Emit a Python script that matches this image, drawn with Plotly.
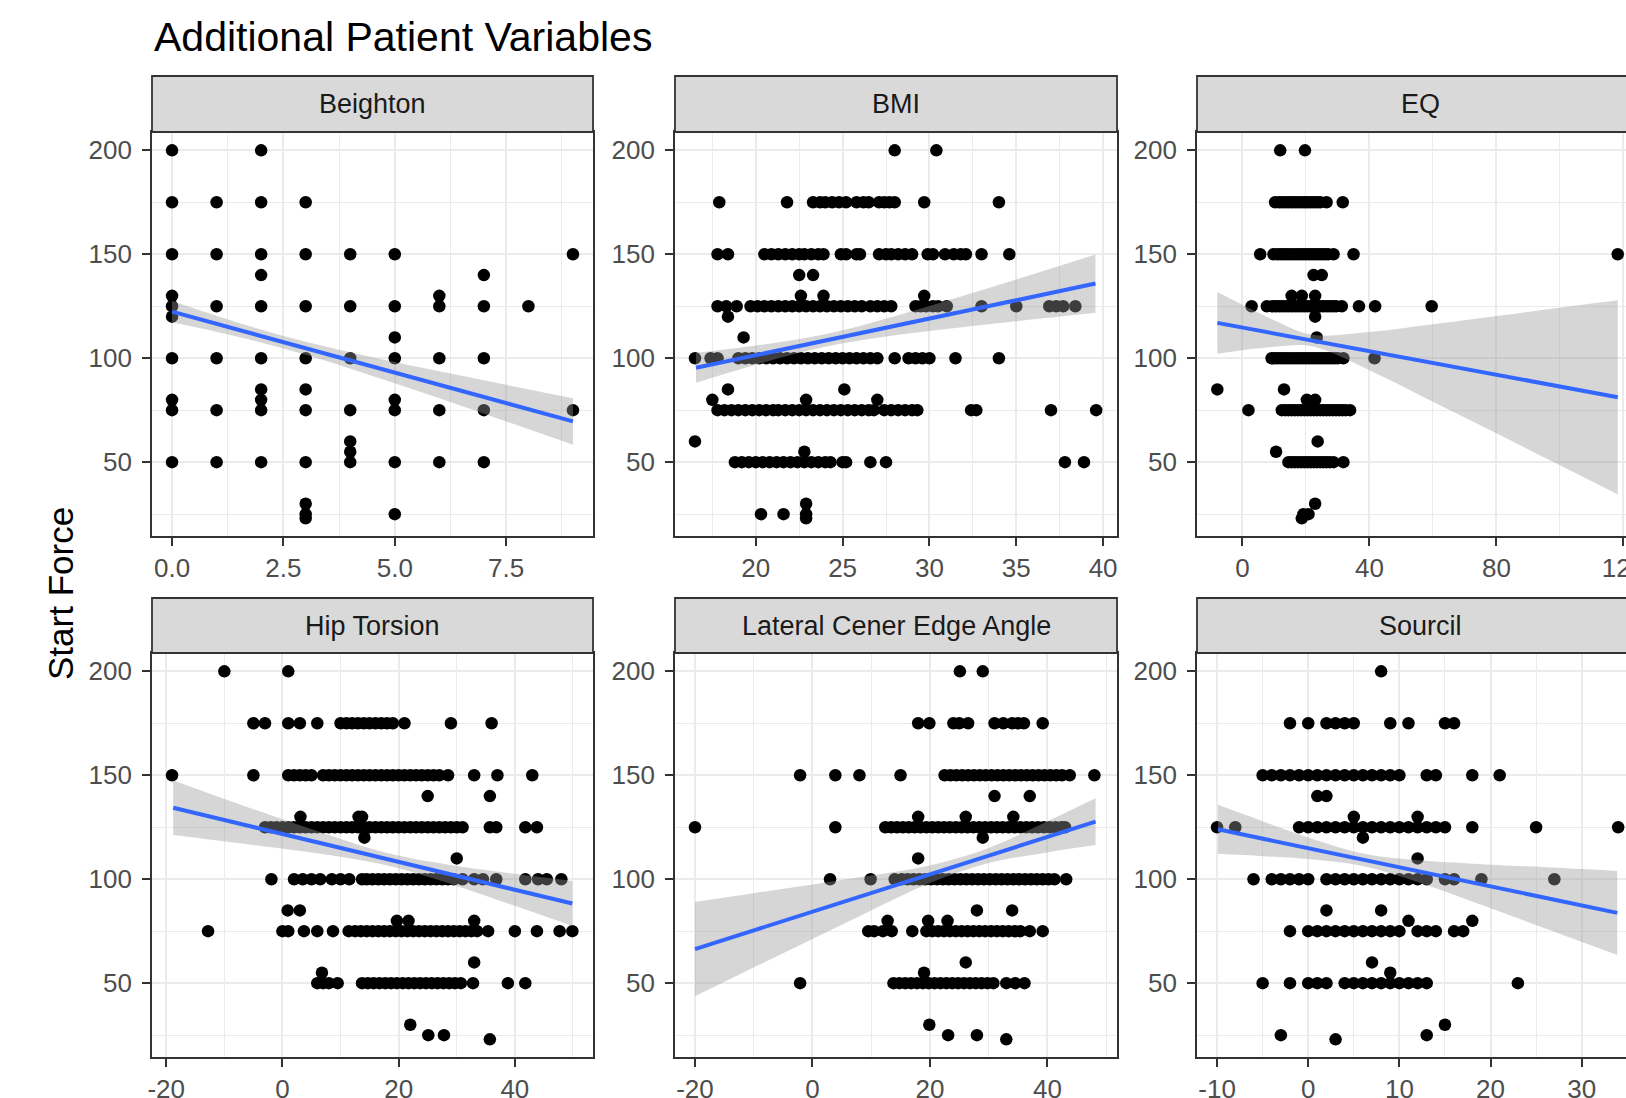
import plotly.graph_objects as go

TITLE = "Additional Patient Variables"
Y_TITLE = "Start Force"
FACETS = ["Beighton", "BMI", "EQ", "Hip Torsion", "Lateral Cener Edge Angle", "Sourcil"]

# ---- point data: (Start Force level, [x values at that level]) ----
BEIGHTON_ROWS = [
    (200, [0, 2]), (175, [0, 1, 2, 3]), (150, [0, 1, 2, 3, 4, 5, 9]), (140, [2, 7]),
    (130, [0, 6]), (125, [0, 1, 2, 3, 4, 5, 6, 7, 8]), (120, [0]), (110, [5]),
    (100, [0, 1, 2, 3, 4, 5, 6, 7]), (85, [2, 3]), (80, [0, 2, 5]),
    (75, [0, 1, 2, 3, 4, 5, 6, 7, 9]), (60, [4]), (55, [4]),
    (50, [0, 1, 2, 3, 4, 5, 6, 7]), (30, [3]), (25, [3, 5]), (23, [3]),
]
BMI_ROWS = [
    (200, [28.0, 30.4]),
    (175, [17.9, 21.8, 23.3, 23.7, 24.0, 24.4, 24.8, 25.2, 25.8, 26.2, 26.5, 27.1, 27.4, 27.7, 28.0, 29.7, 34.0]),
    (150, [17.8, 18.4, 20.5, 20.9, 21.3, 21.7, 22.1, 22.5, 22.8, 23.2, 23.6, 23.9, 24.9, 25.2, 25.8, 26.0,
           27.1, 27.5, 27.8, 28.2, 28.6, 29.0, 29.9, 30.2, 30.9, 31.4, 31.8, 32.1, 33.0, 34.6]),
    (140, [22.5, 23.3]),
    (130, [22.6, 23.9, 29.7]),
    (125, [17.8, 18.3, 18.9, 19.7, 20.1, 20.5, 20.9, 21.3, 21.7, 22.1, 22.5, 22.9, 23.3, 23.7, 24.1, 24.5,
           24.9, 25.3, 25.7, 26.1, 26.6, 27.0, 27.4, 27.8, 29.2, 29.5, 29.8, 30.2, 30.5, 31.0, 33.0, 35.0,
           36.9, 37.3, 37.7, 38.4]),
    (120, [18.4]), (110, [19.3]),
    (100, [16.5, 17.4, 17.8, 19.0, 19.4, 19.8, 20.2, 20.6, 21.0, 21.4, 21.8, 22.2, 22.6, 23.0, 23.4, 23.8,
           24.2, 24.6, 25.0, 25.4, 25.8, 26.2, 26.6, 27.0, 28.0, 28.8, 29.2, 29.6, 30.0, 31.5, 34.0]),
    (85, [18.4, 25.1]), (80, [17.5, 22.9, 27.0]),
    (75, [17.8, 18.2, 18.6, 19.0, 19.4, 19.8, 20.2, 20.6, 21.0, 21.3, 21.7, 22.1, 22.5, 22.9, 23.3, 23.7,
          24.1, 24.5, 24.9, 25.3, 25.7, 26.1, 26.5, 26.8, 27.4, 27.8, 28.2, 28.6, 29.0, 29.3, 32.4, 32.7,
          37.0, 39.6]),
    (60, [16.5]), (55, [22.8]),
    (50, [18.8, 19.2, 19.6, 20.0, 20.4, 20.8, 21.2, 21.6, 22.0, 22.4, 22.8, 23.2, 23.6, 24.0, 24.3, 25.0,
          25.2, 26.6, 27.5, 37.8, 38.9]),
    (30, [22.9]), (25, [20.3, 21.6, 22.9]), (23, [22.9]),
]
EQ_ROWS = [
    (200, [11.9, 19.7]),
    (175, [10.3, 11.5, 12.5, 13.5, 14.5, 15.5, 16.5, 17.5, 18.5, 19.5, 20.5, 21.5, 22.5, 23.5, 24.5, 26.5, 31.6]),
    (150, [5.6, 9.8, 11, 12, 13, 14, 15, 16, 17, 18, 19, 20, 21, 22, 23, 24, 25, 26, 27, 28.7, 35.0, 118.2]),
    (140, [22.4, 25.0]),
    (130, [15.5, 18.7, 22.9]),
    (125, [2.9, 7.7, 9.5, 10.5, 11.5, 12.5, 13.5, 14.5, 15.5, 16.5, 17.5, 18.5, 19.5, 20.5, 21.5, 22.5,
           23.5, 24.5, 25.5, 26.5, 27.5, 28.5, 29.5, 31.3, 36.7, 41.8, 59.6]),
    (120, [22.9]), (110, [23.4]),
    (100, [9.2, 10, 11, 12, 13, 14, 15, 16, 17, 18, 19, 20, 21, 22, 23, 24, 25, 26, 27, 28, 29, 30, 31.8, 41.6]),
    (85, [-7.9, 13.1]), (80, [20.3, 22.9]),
    (75, [1.9, 12.4, 13.5, 14.5, 15.5, 16.5, 17.5, 18.5, 19.5, 20.5, 21.5, 22.5, 23.5, 24.5, 25.5, 26.5,
          27.5, 28.5, 29.5, 30.5, 31.5, 32.5, 33.9]),
    (60, [23.7]), (55, [10.6]),
    (50, [14.5, 15.5, 16.5, 17.5, 18.5, 19.5, 20.5, 21.5, 22.5, 23.5, 24.5, 25.5, 26.5, 27.5, 28.7, 31.8]),
    (30, [22.9]), (25, [19.2, 20.8]), (23, [18.7]),
]
HIP_ROWS = [
    (200, [-10, 1]),
    (175, [-5, -3, 1, 3, 6, 10, 11, 12, 13, 14, 15, 16, 17, 18, 19, 21, 29, 36]),
    (150, [-19, -5, 1, 2, 3, 4, 5, 7, 8, 9, 10, 11, 12, 13, 14, 15, 16, 17, 18, 19, 20, 21, 22, 23, 24, 25,
           26, 27, 28.5, 33, 37, 43]),
    (140, [25, 35.7]),
    (130, [3.1, 13.1, 13.7]),
    (125, [-3, -2, -1, 0, 1, 2, 3, 4, 5, 6, 7, 8, 9, 10, 11, 12, 13, 14, 15, 16, 17, 18, 19, 20, 21, 22, 23,
           24, 25, 26, 27, 28, 29, 30, 31, 35.7, 36.8, 41.8, 43.8]),
    (120, [14.1]), (110, [30]),
    (100, [-1.9, 2, 3.5, 5, 6.5, 8.5, 10, 11.5, 13.7, 14.5, 15.5, 16.5, 17.5, 18.5, 19.5, 20.5, 21.5, 22.5,
           23.5, 24.5, 25.5, 26.5, 27.5, 28.5, 29.5, 31, 33, 34.5, 36.8, 41.8, 44, 45.5, 48]),
    (85, [0.9, 3]), (80, [19.7, 21.7, 33]),
    (75, [-12.8, 0, 1, 3.7, 6, 8.7, 11.4, 12.5, 13.5, 14.5, 15.5, 16.5, 17.5, 18.5, 19.5, 20.5, 21.5, 22.5,
          23.5, 24.5, 25.5, 26.5, 27.5, 28.5, 29.5, 30.5, 31.5, 32.5, 33.5, 35.4, 40, 43.8, 47.7, 49.9]),
    (60, [33]), (55, [6.8]),
    (50, [6, 7, 8, 9.5, 13.7, 14.7, 15.7, 16.7, 17.7, 18.7, 19.7, 20.7, 21.7, 22.7, 23.7, 24.7, 25.7, 26.7,
          27.7, 28.7, 29.7, 30.7, 32.8, 38.8, 41.8]),
    (30, [22]), (25, [25.1, 27.8]), (23, [35.7]),
]
LCEA_ROWS = [
    (200, [25.1, 29]),
    (175, [18, 19.9, 24, 25, 26.5, 31, 32.5, 34, 35, 36, 39.2]),
    (150, [-2.1, 3.9, 8, 15, 22.5, 23.5, 24.5, 25.5, 26.5, 27.5, 28.5, 29.5, 30.5, 31.5, 32.5, 33.5, 34.5,
           35.5, 36.5, 37.5, 38.5, 39.5, 40.5, 41.5, 42.5, 43.8, 48]),
    (140, [31, 37]),
    (130, [18, 26.1, 34.2]),
    (125, [-20, 3.9, 12.4, 13.4, 14.4, 15.4, 16.4, 17.4, 18.4, 19.4, 20.4, 21.4, 22.4, 23.4, 24.4, 25.4,
           26.4, 27.4, 28.4, 29.4, 30.4, 31.4, 32.4, 33.4, 34.4, 35.4, 36.4, 37.4, 38.4, 39.4, 40.4, 41.4,
           42.4, 43]),
    (120, [29]), (110, [18]),
    (100, [3, 9.9, 14, 15.2, 16.2, 17.2, 18.2, 19.2, 20.2, 21.2, 22.2, 23.2, 24.2, 25.2, 26.2, 27.2, 28.2,
           29.2, 30.2, 31.2, 32.2, 33.2, 34.2, 35.2, 36.2, 37.2, 38.2, 39.2, 40.2, 41.2, 43.2]),
    (85, [28, 34]), (80, [12.8, 19.7, 23]),
    (75, [9.5, 10.5, 12, 13.5, 17, 19.4, 20.4, 21.4, 22.4, 23.4, 24.4, 25.4, 26.4, 27.4, 28.4, 29.4, 30.4,
          31.4, 32.4, 33.4, 34.4, 35.4, 37, 39.2]),
    (60, [26.1]), (55, [19]),
    (50, [-2.1, 13.8, 14.8, 15.8, 16.8, 17.8, 18.8, 19.8, 20.8, 21.8, 22.8, 23.8, 24.8, 25.8, 26.8, 27.8,
          28.8, 29.8, 30.8, 33, 34.5, 36.1]),
    (30, [19.9]), (25, [23.1, 28]), (23, [33]),
]
SOURCIL_ROWS = [
    (200, [8]),
    (175, [-2, 0, 2, 3, 4, 5, 9, 11, 15, 16]),
    (150, [-5, -4, -3, -2, -1, 0, 1, 2, 3, 4, 5, 6, 7, 8, 9, 10, 13, 14, 18, 21]),
    (140, [1, 2]), (130, [5, 12]),
    (125, [-10, -8, -1, 0, 1, 2, 3, 4, 5, 6, 7, 8, 9, 10, 11, 12, 13, 14, 15, 18, 25, 34]),
    (120, [6]), (110, [12]),
    (100, [-6, -4, -3, -2, -1, 0, 2, 3, 4, 5, 6, 7, 8, 9, 10, 11, 12, 13, 15, 16, 19, 27]),
    (85, [2, 8]), (80, [11, 18]),
    (75, [-2, 0, 1, 2, 3, 4, 5, 6, 7, 8, 9, 10, 12, 13, 14, 16, 17]),
    (60, [7]), (55, [9]),
    (50, [-5, -2, 0, 1, 2, 4, 5, 6, 7, 8, 9, 10, 11, 12, 13, 23]),
    (30, [15]), (25, [-3, 13]), (23, [3]),
]

# ---- linear smooth (geom_smooth, method = "lm") ----
BEIGHTON_SM_X = [0, 1.5, 3, 4.5, 6, 7.5, 9]
BEIGHTON_SM_FIT = [122.4, 113.6, 104.8, 96.0, 87.2, 78.4, 69.6]
BEIGHTON_SM_LO = [117.3, 110.2, 101.7, 91.5, 80.7, 69.6, 58.4]
BEIGHTON_SM_HI = [127.5, 117.0, 107.9, 100.5, 93.7, 87.2, 80.8]

BMI_SM_X = [16.56, 20, 24, 28, 32, 36, 39.56]
BMI_SM_FIT = [95.4, 101.5, 108.5, 115.6, 122.6, 129.6, 135.9]
BMI_SM_LO = [88.2, 96.9, 105.5, 111.0, 115.0, 118.7, 121.9]
BMI_SM_HI = [102.6, 106.1, 111.5, 120.2, 130.2, 140.5, 149.9]

EQ_SM_X = [-7.9, 10, 22, 40, 60, 80, 100, 118.2]
EQ_SM_FIT = [117.0, 111.9, 108.5, 103.4, 97.7, 92.1, 86.4, 81.2]
EQ_SM_LO = [102.2, 105.5, 105.7, 94.2, 79.1, 63.9, 48.5, 34.5]
EQ_SM_HI = [131.8, 118.3, 111.3, 112.6, 116.3, 120.3, 124.3, 127.9]

HIP_SM_X = [-18.8, -5, 10, 19, 30, 40, 49.9]
HIP_SM_FIT = [134.4, 125.1, 115.1, 109.0, 101.6, 94.9, 88.3]
HIP_SM_LO = [121.3, 116.5, 110.8, 106.0, 96.8, 87.2, 77.5]
HIP_SM_HI = [147.5, 133.7, 119.4, 112.0, 106.4, 102.6, 99.1]

LCEA_SM_X = [-20, -10, 0, 10, 20, 30, 40, 48.2]
LCEA_SM_FIT = [66.4, 75.4, 84.4, 93.4, 102.4, 111.4, 120.4, 127.7]
LCEA_SM_LO = [43.7, 57.5, 71.3, 85.0, 98.2, 107.8, 112.9, 116.4]
LCEA_SM_HI = [89.1, 93.3, 97.5, 101.8, 106.6, 115.0, 127.9, 139.0]

SOURCIL_SM_X = [-9.9, -5, 0, 6, 12, 18, 24, 33.9]
SOURCIL_SM_FIT = [124.0, 119.5, 114.9, 109.4, 103.9, 98.4, 92.9, 83.8]
SOURCIL_SM_LO = [112.2, 111.1, 109.7, 106.4, 98.7, 89.3, 79.6, 63.6]
SOURCIL_SM_HI = [135.8, 127.9, 120.1, 112.4, 109.1, 107.5, 106.2, 104.0]

# ---- axes ----
Y_TICKS = [50, 100, 150, 200]
Y_MINOR = [25, 75, 125, 175]
Y_RANGE = [14.5, 208.8]

BEIGHTON_TICKS, BEIGHTON_LABELS = [0, 2.5, 5, 7.5], ["0.0", "2.5", "5.0", "7.5"]
BMI_TICKS, BMI_LABELS = [20, 25, 30, 35, 40], ["20", "25", "30", "35", "40"]
EQ_TICKS, EQ_LABELS = [0, 40, 80, 120], ["0", "40", "80", "120"]
HIP_TICKS, HIP_LABELS = [-20, 0, 20, 40], ["-20", "0", "20", "40"]
LCEA_TICKS, LCEA_LABELS = [-20, 0, 20, 40], ["-20", "0", "20", "40"]
SOURCIL_TICKS, SOURCIL_LABELS = [-10, 0, 10, 20, 30], ["-10", "0", "10", "20", "30"]

BEIGHTON_MINOR = [1.25, 3.75, 6.25, 8.75]
BMI_MINOR = [17.5, 22.5, 27.5, 32.5, 37.5]
EQ_MINOR = [20, 60, 100]
HIP_MINOR = [-10, 10, 30, 50]
LCEA_MINOR = [-10, 10, 30, 50]
SOURCIL_MINOR = [-5, 5, 15, 25]

X_RANGES = [[-0.45, 9.45], [15.35, 40.8], [-14.3, 120.8],
            [-22.45, 53.45], [-23.4, 51.85], [-12.2, 34.86]]

ROWS = [BEIGHTON_ROWS, BMI_ROWS, EQ_ROWS, HIP_ROWS, LCEA_ROWS, SOURCIL_ROWS]
SMOOTH = [
    (BEIGHTON_SM_X, BEIGHTON_SM_FIT, BEIGHTON_SM_LO, BEIGHTON_SM_HI),
    (BMI_SM_X, BMI_SM_FIT, BMI_SM_LO, BMI_SM_HI),
    (EQ_SM_X, EQ_SM_FIT, EQ_SM_LO, EQ_SM_HI),
    (HIP_SM_X, HIP_SM_FIT, HIP_SM_LO, HIP_SM_HI),
    (LCEA_SM_X, LCEA_SM_FIT, LCEA_SM_LO, LCEA_SM_HI),
    (SOURCIL_SM_X, SOURCIL_SM_FIT, SOURCIL_SM_LO, SOURCIL_SM_HI),
]
TICKS = [(BEIGHTON_TICKS, BEIGHTON_LABELS, BEIGHTON_MINOR), (BMI_TICKS, BMI_LABELS, BMI_MINOR),
         (EQ_TICKS, EQ_LABELS, EQ_MINOR), (HIP_TICKS, HIP_LABELS, HIP_MINOR),
         (LCEA_TICKS, LCEA_LABELS, LCEA_MINOR), (SOURCIL_TICKS, SOURCIL_LABELS, SOURCIL_MINOR)]

# ---- layout geometry (pixels) ----
W, H = 1626, 1098
COLS = [(152, 593), (675, 1117), (1197, 1626)]
STRIP_COLS = [(152, 593), (675, 1117), (1197, 1644)]
PANEL_ROWS = [(132, 536), (653, 1057)]
STRIP_ROWS = [(76, 132), (598, 653)]

FONT = "Liberation Sans, Arial, sans-serif"
BORDER = "#333333"
GRID = "#EBEBEB"

fig = go.Figure()
layout = dict(
    width=W, height=H, margin=dict(l=0, r=0, t=0, b=0, autoexpand=False),
    paper_bgcolor="white", plot_bgcolor="white", showlegend=False,
    font=dict(family=FONT),
)

shapes, annotations = [], []
for i, name in enumerate(FACETS):
    r, c = divmod(i, 3)
    ax = "" if i == 0 else str(i + 1)
    xs, ys = [], []
    for yv, xl in ROWS[i]:
        xs.extend(xl)
        ys.extend([yv] * len(xl))
    fig.add_trace(go.Scatter(x=xs, y=ys, mode="markers", xaxis="x" + ax, yaxis="y" + ax,
                             marker=dict(color="black", size=12.5, line=dict(width=0)),
                             hoverinfo="skip"))
    sx, sfit, slo, shi = SMOOTH[i]
    fig.add_trace(go.Scatter(x=sx, y=slo, mode="lines", xaxis="x" + ax, yaxis="y" + ax,
                             line=dict(width=0, shape="spline"), hoverinfo="skip"))
    fig.add_trace(go.Scatter(x=sx, y=shi, mode="lines", xaxis="x" + ax, yaxis="y" + ax,
                             line=dict(width=0, shape="spline"), fill="tonexty",
                             fillcolor="rgba(153,153,153,0.4)", hoverinfo="skip"))
    fig.add_trace(go.Scatter(x=sx, y=sfit, mode="lines", xaxis="x" + ax, yaxis="y" + ax,
                             line=dict(color="#3366FF", width=4), hoverinfo="skip"))

    x0, x1 = COLS[c]
    top, bot = PANEL_ROWS[r]
    tv, tt, mv = TICKS[i]
    common = dict(showline=True, mirror=True, linecolor=BORDER, linewidth=1.8,
                  ticks="outside", ticklen=8, tickwidth=1.8, tickcolor=BORDER,
                  showgrid=True, gridcolor=GRID, gridwidth=1.8, zeroline=False,
                  automargin=False, ticklabeloverflow="allow",
                  tickfont=dict(size=26, color="#4D4D4D", family=FONT))
    layout["xaxis" + ax] = dict(domain=[x0 / W, x1 / W], anchor="y" + ax, range=X_RANGES[i],
                                tickmode="array", tickvals=tv, ticktext=tt,
                                minor=dict(tickmode="array", tickvals=mv, showgrid=True,
                                           gridcolor=GRID, gridwidth=0.9, ticks=""),
                                **common)
    layout["yaxis" + ax] = dict(domain=[1 - bot / H, 1 - top / H], anchor="x" + ax, range=Y_RANGE,
                                tickmode="array", tickvals=Y_TICKS, ticktext=[str(v) for v in Y_TICKS],
                                minor=dict(tickmode="array", tickvals=Y_MINOR, showgrid=True,
                                           gridcolor=GRID, gridwidth=0.9, ticks=""),
                                ticklabelstandoff=5,
                                **common)
    s0, s1 = STRIP_COLS[c]
    st, sb = STRIP_ROWS[r]
    shapes.append(dict(type="rect", xref="paper", yref="paper", x0=s0 / W, x1=s1 / W,
                       y0=1 - sb / H, y1=1 - st / H, fillcolor="#D9D9D9",
                       line=dict(color=BORDER, width=1.8), layer="above"))
    annotations.append(dict(text=name, xref="paper", yref="paper", x=(s0 + s1) / 2 / W,
                            y=1 - (st + sb) / 2 / H, xanchor="center", yanchor="middle",
                            showarrow=False, font=dict(size=27, color="#1A1A1A", family=FONT)))

annotations.append(dict(text=TITLE, xref="paper", yref="paper", x=152 / W, y=1 - 37 / H,
                        xanchor="left", yanchor="middle", showarrow=False,
                        font=dict(size=41, color="black", family=FONT)))
annotations.append(dict(text=Y_TITLE, xref="paper", yref="paper", x=60 / W, y=1 - 594 / H,
                        xanchor="center", yanchor="middle", textangle=-90, showarrow=False,
                        font=dict(size=35, color="black", family=FONT)))

layout["shapes"] = shapes
layout["annotations"] = annotations
fig.update_layout(**layout)
fig.write_html("out.html", config={"displayModeBar": False},
               post_script="document.body.style.margin='0px';document.body.style.overflow='hidden';")
